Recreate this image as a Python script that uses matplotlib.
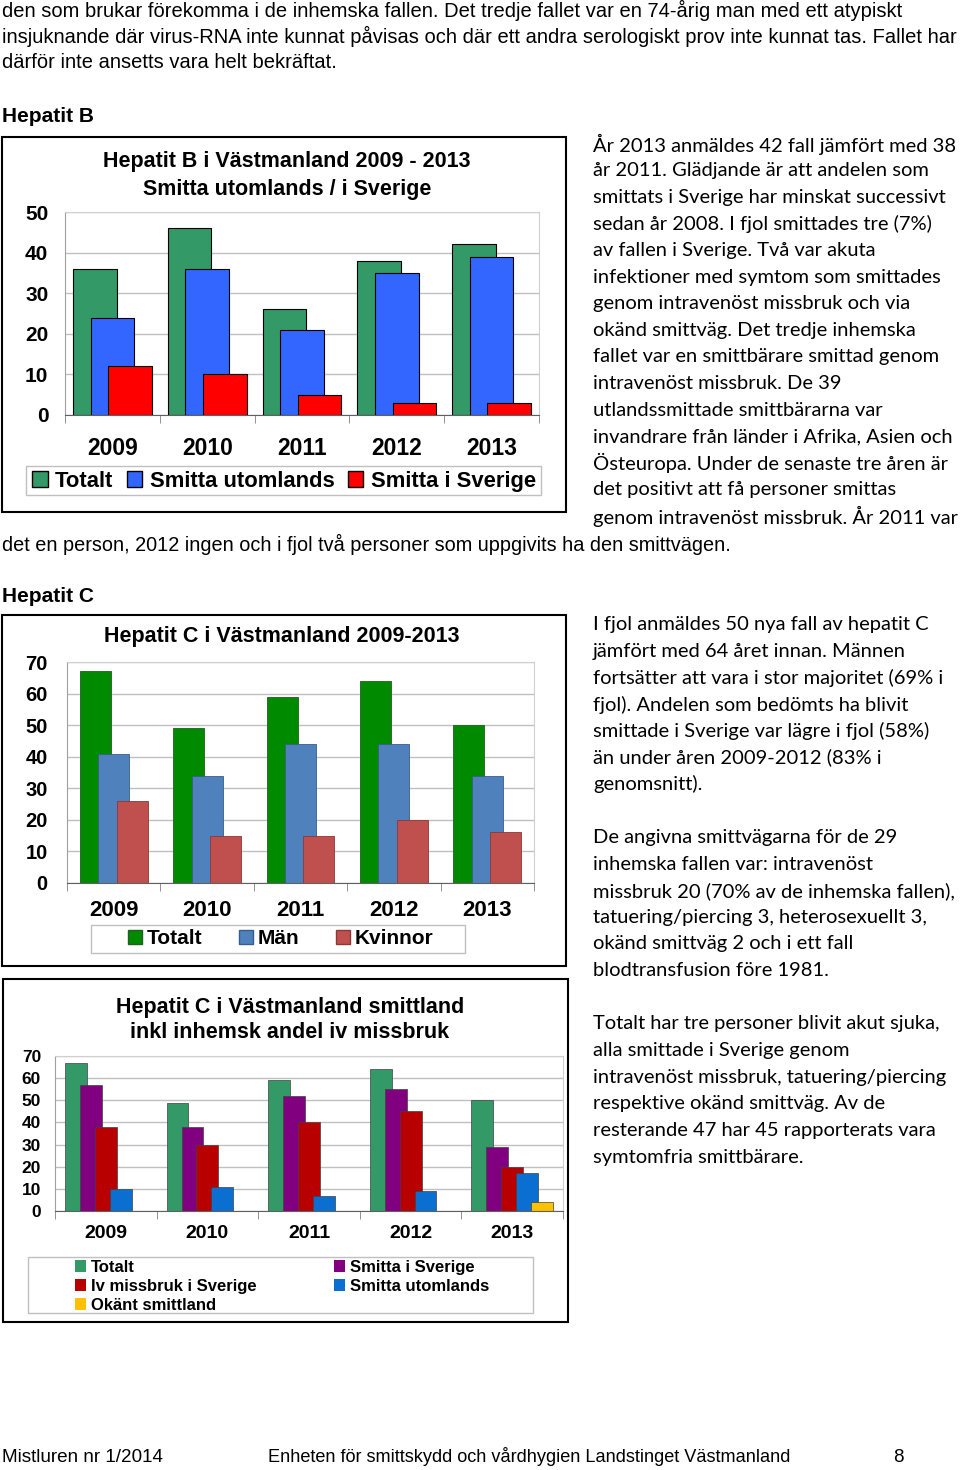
import matplotlib
matplotlib.use("Agg")
import matplotlib.pyplot as plt
from matplotlib.patches import Rectangle, Patch
from matplotlib import font_manager
import numpy as np

# data
years = ["2009", "2010", "2011", "2012", "2013"]

hepb_totalt = [36, 46, 26, 38, 42]
hepb_utomlands = [24, 36, 21, 35, 39]
hepb_sverige = [12, 10, 5, 3, 3]

hepc_totalt = [67, 49, 59, 64, 50]
hepc_man = [41, 34, 44, 44, 34]
hepc_kvinnor = [26, 15, 15, 20, 16]

hepc_sverige = [57, 38, 52, 55, 29]
hepc_iv = [38, 30, 40, 45, 20]
hepc_utomlands = [10, 11, 7, 9, 17]
hepc_okant = [0, 0, 0, 0, 4]

top_lines = [
    "den som brukar förekomma i de inhemska fallen. Det tredje fallet var en 74-årig man med ett atypiskt",
    "insjuknande där virus-RNA inte kunnat påvisas och där ett andra serologiskt prov inte kunnat tas. Fallet har",
    "därför inte ansetts vara helt bekräftat.",
]
hepb_text = [
    "År 2013 anmäldes 42 fall jämfört med 38",
    "år 2011. Glädjande är att andelen som",
    "smittats i Sverige har minskat successivt",
    "sedan år 2008. I fjol smittades tre (7%)",
    "av fallen i Sverige. Två var akuta",
    "infektioner med symtom som smittades",
    "genom intravenöst missbruk och via",
    "okänd smittväg. Det tredje inhemska",
    "fallet var en smittbärare smittad genom",
    "intravenöst missbruk. De 39",
    "utlandssmittade smittbärarna var",
    "invandrare från länder i Afrika, Asien och",
    "Östeuropa. Under de senaste tre åren är",
    "det positivt att få personer smittas",
    "genom intravenöst missbruk. År 2011 var",
]
hepb_tail = "det en person, 2012 ingen och i fjol två personer som uppgivits ha den smittvägen."
hepc_text1 = [
    "I fjol anmäldes 50 nya fall av hepatit C",
    "jämfört med 64 året innan. Männen",
    "fortsätter att vara i stor majoritet (69% i",
    "fjol). Andelen som bedömts ha blivit",
    "smittade i Sverige var lägre i fjol (58%)",
    "än under åren 2009-2012 (83% i",
    "genomsnitt).",
]
hepc_text2 = [
    "De angivna smittvägarna för de 29",
    "inhemska fallen var: intravenöst",
    "missbruk 20 (70% av de inhemska fallen),",
    "tatuering/piercing 3, heterosexuellt 3,",
    "okänd smittväg 2 och i ett fall",
    "blodtransfusion före 1981.",
]
hepc_text3 = [
    "Totalt har tre personer blivit akut sjuka,",
    "alla smittade i Sverige genom",
    "intravenöst missbruk, tatuering/piercing",
    "respektive okänd smittväg. Av de",
    "resterande 47 har 45 rapporterats vara",
    "symtomfria smittbärare.",
]

W, H = 960, 1470
installed = {f.name for f in font_manager.fontManager.ttflist}
narrow = "Liberation Sans Narrow" if "Liberation Sans Narrow" in installed else "Liberation Sans"
body = "Lato"
chartfont = "Liberation Sans"

fig = plt.figure(figsize=(W / 100, H / 100), dpi=100)
fig.patch.set_facecolor("white")


def fy(y):
    return 1 - y / H


def add_ax(x0, y0, x1, y1):
    return fig.add_axes([x0 / W, 1 - y1 / H, (x1 - x0) / W, (y1 - y0) / H])


def box(x0, y0, x1, y1, ec="black", lw=1.5):
    fig.patches.append(Rectangle((x0 / W, 1 - y1 / H), (x1 - x0) / W, (y1 - y0) / H,
                                 transform=fig.transFigure, fill=False, ec=ec, lw=lw))


def txt(x, y, s, **kw):
    fig.text(x / W, fy(y), s, va="center", **kw)


def style_axes(ax, ymax, ystep, ysize, xsize, xpad, ypad):
    x = np.arange(len(years))
    ax.set_xlim(-0.5, len(years) - 0.5)
    ax.set_ylim(0, ymax)
    ax.set_yticks(np.arange(0, ymax + 1, ystep))
    ax.set_xticks(x)
    ax.set_xticklabels(years, fontsize=xsize, fontweight="bold", family=chartfont)
    for lab in ax.get_yticklabels():
        lab.set_fontsize(ysize)
        lab.set_fontweight("bold")
        lab.set_family(chartfont)
    ax.set_xticks(np.arange(-0.5, len(years)), minor=True)
    ax.tick_params(axis="x", which="major", length=0, pad=xpad)
    ax.tick_params(axis="x", which="minor", length=6, color="#808080", direction="out")
    ax.tick_params(axis="y", length=0, pad=ypad)
    ax.set_axisbelow(True)
    ax.yaxis.grid(True, color="#c0c0c0", lw=1)
    ax.spines["left"].set_color("#a0a0a0")
    ax.spines["bottom"].set_color("#606060")
    ax.spines["right"].set_color("#d0d0d0")
    ax.spines["top"].set_color("#d0d0d0")


# ---- page text ----
for i, line in enumerate(top_lines):
    txt(2, 10 + i * 26, line, fontsize=14.5, family=narrow)
txt(2, 117, "Hepatit B", fontsize=15, family=narrow, fontweight="bold")
for i, line in enumerate(hepb_text):
    txt(593, 144 + i * 26.6, line, fontsize=14.5, family=body)
txt(2, 544, hepb_tail, fontsize=14.3, family=narrow)
txt(2, 597, "Hepatit C", fontsize=15, family=narrow, fontweight="bold")
for i, line in enumerate(hepc_text1):
    txt(593, 625 + i * 26.5, line, fontsize=14.5, family=body)
for i, line in enumerate(hepc_text2):
    txt(593, 838 + i * 26.5, line, fontsize=14.5, family=body)
for i, line in enumerate(hepc_text3):
    txt(593, 1024 + i * 26.6, line, fontsize=14.5, family=body)
txt(2, 1457, "Mistluren nr 1/2014", fontsize=13.6, family=narrow)
txt(268, 1457, "Enheten för smittskydd och vårdhygien Landstinget Västmanland", fontsize=13.1, family=narrow)
txt(893, 1457, "8", fontsize=13.5, family=narrow)

x = np.arange(len(years))

# ---- Hepatit B chart ----
box(2, 137, 566, 512)
txt(287, 162, "Hepatit B i Västmanland 2009 - 2013", fontsize=15.5, fontweight="bold",
    family=chartfont, ha="center")
txt(287, 189, "Smitta utomlands / i Sverige", fontsize=15.5, fontweight="bold",
    family=chartfont, ha="center")
ax = add_ax(65, 212, 539, 415)
bw, off = 0.46, 0.185
ax.bar(x - off, hepb_totalt, bw, color="#339966", edgecolor="black", lw=0.8)
ax.bar(x, hepb_utomlands, bw, color="#3366ff", edgecolor="black", lw=0.8)
ax.bar(x + off, hepb_sverige, bw, color="#ff0000", edgecolor="black", lw=0.8)
style_axes(ax, 50, 10, 15, 16.5, 16, 12)
box(26, 466, 541, 495, ec="#c0c0c0", lw=1)
handles = [Patch(fc="#339966", ec="black"), Patch(fc="#3366ff", ec="black"), Patch(fc="#ff0000", ec="black")]
fig.legend(handles, ["Totalt", "Smitta utomlands", "Smitta i Sverige"], loc="center",
           bbox_to_anchor=(284 / W, fy(481)), ncol=3, frameon=False,
           prop={"family": chartfont, "weight": "bold", "size": 15.8},
           handlelength=0.7, handleheight=0.7, handletextpad=0.35, columnspacing=0.6)

# ---- Hepatit C chart 1 ----
box(2, 615, 566, 966)
txt(282, 636, "Hepatit C i Västmanland 2009-2013", fontsize=15.5, fontweight="bold",
    family=chartfont, ha="center")
ax = add_ax(67, 662, 534, 883)
bw, off = 0.33, 0.197
ax.bar(x - off, hepc_totalt, bw, color="#008a00", edgecolor="#1f5f1f", lw=0.6)
ax.bar(x, hepc_man, bw, color="#4f81bd", edgecolor="#385d8a", lw=0.6)
ax.bar(x + off, hepc_kvinnor, bw, color="#c0504d", edgecolor="#8c3836", lw=0.6)
style_axes(ax, 70, 10, 14.5, 16, 12, 14)
box(91, 925, 465, 953, ec="#c0c0c0", lw=1)
handles = [Patch(fc="#008a00", ec="#1f5f1f"), Patch(fc="#4f81bd", ec="#385d8a"), Patch(fc="#c0504d", ec="#8c3836")]
fig.legend(handles, ["Totalt", "Män", "Kvinnor"], loc="center",
           bbox_to_anchor=(281 / W, fy(939)), ncol=3, frameon=False,
           prop={"family": chartfont, "weight": "bold", "size": 15},
           handlelength=0.65, handleheight=0.65, handletextpad=0.25, columnspacing=1.75)

# ---- Hepatit C chart 2 ----
box(3, 979, 568, 1322)
txt(290, 1007, "Hepatit C i Västmanland smittland", fontsize=15.5, fontweight="bold",
    family=chartfont, ha="center")
txt(290, 1032, "inkl inhemsk andel iv missbruk", fontsize=15.5, fontweight="bold",
    family=chartfont, ha="center")
ax = add_ax(55, 1056, 563, 1211)
bw, step = 0.215, 0.147
c2_series = [
    (hepc_totalt, "#339966", "Totalt"),
    (hepc_sverige, "#800080", "Smitta i Sverige"),
    (hepc_iv, "#b80000", "Iv missbruk i Sverige"),
    (hepc_utomlands, "#0b6fd1", "Smitta utomlands"),
    (hepc_okant, "#ffc000", "Okänt smittland"),
]
for k, (vals, col, lab) in enumerate(c2_series):
    ax.bar(x + (k - 2) * step, vals, bw, color=col, edgecolor="#404040", lw=0.5)
style_axes(ax, 70, 10, 12.5, 14, 10, 10)
box(28, 1257, 533, 1313, ec="#c0c0c0", lw=1)
order = [0, 2, 4, 1, 3]
handles = [Patch(fc=c2_series[k][1], ec="none") for k in order]
labels = [c2_series[k][2] for k in order]
fig.legend(handles, labels, loc="center",
           bbox_to_anchor=(282 / W, fy(1286.5)), ncol=2, frameon=False,
           prop={"family": chartfont, "weight": "bold", "size": 12},
           handlelength=0.7, handleheight=0.7, handletextpad=0.3, columnspacing=4.6,
           labelspacing=0.25)

fig.savefig("out.png", dpi=100)
